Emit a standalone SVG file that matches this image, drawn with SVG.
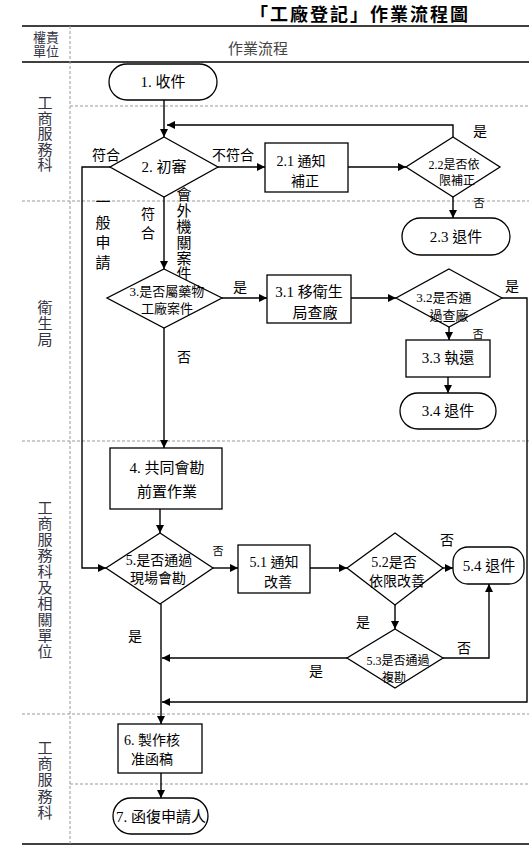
<svg xmlns="http://www.w3.org/2000/svg" width="529" height="850" viewBox="0 0 529 850">
<defs>
<marker id="arr" markerUnits="userSpaceOnUse" markerWidth="8" markerHeight="8" refX="8" refY="4" orient="auto">
<path d="M0,0 L8,4 L0,8 z" fill="#000"/>
</marker>
<style>
text{font-family:"Liberation Serif","Noto Sans CJK TC",serif;fill:#000}
.shape{fill:#fff;stroke:#000;stroke-width:1.3}
.edge{fill:none;stroke:#000;stroke-width:1.4}
.arrow{marker-end:url(#arr)}
.t15{font-size:15px;text-anchor:middle}
.t14{font-size:14px;text-anchor:middle}
.t13{font-size:13px;text-anchor:middle}
.t12{font-size:12px;text-anchor:middle}
.t11{font-size:11px;text-anchor:middle}
.lane{font-size:15px;text-anchor:middle;fill:#333344}
.frame{stroke:#000;stroke-width:1.6}
.dash{stroke:#999;stroke-width:1;stroke-dasharray:3,2}
</style>
</defs>
<rect width="529" height="850" fill="#fff"/>

<!-- title -->
<text x="250" y="21" style="font-family:'Noto Sans CJK TC',sans-serif;font-size:18px;font-weight:bold;letter-spacing:2px">「工廠登記」作業流程圖</text>

<!-- frame -->
<g id="frame">
<line class="frame" x1="22" y1="26" x2="529" y2="26"/>
<line class="frame" x1="22" y1="62" x2="529" y2="62"/>
<line class="frame" x1="22" y1="844" x2="529" y2="844"/>
<line class="dash" x1="70" y1="26" x2="70" y2="844"/>
<line class="dash" x1="70" y1="106" x2="529" y2="106"/>
<line class="dash" x1="22" y1="201" x2="529" y2="201"/>
<line class="dash" x1="22" y1="441" x2="529" y2="441"/>
<line class="dash" x1="22" y1="714" x2="529" y2="714"/>
<line class="dash" x1="70" y1="784" x2="529" y2="784"/>
<text class="t13" style="fill:#333344" x="46" y="42">權責</text>
<text class="t13" style="fill:#333344" x="46" y="56">單位</text>
<text class="t15" style="fill:#444" x="258" y="54">作業流程</text>
</g>

<!-- lane labels -->
<g id="lanes">
<text class="lane"><tspan x="45" y="108">工</tspan><tspan x="45" y="123.5">商</tspan><tspan x="45" y="139">服</tspan><tspan x="45" y="154.5">務</tspan><tspan x="45" y="170">科</tspan></text>
<text class="lane"><tspan x="45" y="313">衛</tspan><tspan x="45" y="329">生</tspan><tspan x="45" y="345">局</tspan></text>
<text class="lane"><tspan x="45" y="513">工</tspan><tspan x="45" y="529">商</tspan><tspan x="45" y="545">服</tspan><tspan x="45" y="561">務</tspan><tspan x="45" y="577">科</tspan><tspan x="45" y="593">及</tspan><tspan x="45" y="609">相</tspan><tspan x="45" y="625">關</tspan><tspan x="45" y="641">單</tspan><tspan x="45" y="657">位</tspan></text>
<text class="lane"><tspan x="45" y="753">工</tspan><tspan x="45" y="769">商</tspan><tspan x="45" y="785">服</tspan><tspan x="45" y="802">務</tspan><tspan x="45" y="818">科</tspan></text>
</g>

<!-- connectors -->
<g id="connectors">
<line class="edge arrow" x1="164" y1="100" x2="164" y2="137"/>
<polyline class="edge arrow" points="453,137 453,125 167,125"/>
<line class="edge arrow" x1="217" y1="167" x2="265" y2="167"/>
<line class="edge arrow" x1="348" y1="167" x2="406" y2="167"/>
<line class="edge arrow" x1="453" y1="197" x2="453" y2="218"/>
<line class="edge arrow" x1="164" y1="197" x2="164" y2="269"/>
<polyline class="edge arrow" points="110,167 82,167 82,568 106,568"/>
<line class="edge arrow" x1="222" y1="298" x2="267" y2="298"/>
<line class="edge arrow" x1="351" y1="298" x2="396" y2="298"/>
<line class="edge arrow" x1="449" y1="327" x2="449" y2="340"/>
<line class="edge arrow" x1="448" y1="377" x2="448" y2="393"/>
<polyline class="edge arrow" points="502,298 527,298 527,702 162,702"/>
<line class="edge arrow" x1="164" y1="328" x2="164" y2="448"/>
<line class="edge arrow" x1="160" y1="509" x2="160" y2="533"/>
<line class="edge arrow" x1="213" y1="568" x2="238" y2="568"/>
<line class="edge arrow" x1="310" y1="568" x2="347" y2="568"/>
<line class="edge arrow" x1="443" y1="568" x2="453" y2="568"/>
<line class="edge arrow" x1="395" y1="605" x2="395" y2="629"/>
<polyline class="edge arrow" points="443,658 489,658 489,584"/>
<line class="edge arrow" x1="347" y1="658" x2="162" y2="658"/>
<line class="edge arrow" x1="161" y1="604" x2="161" y2="724"/>
<line class="edge arrow" x1="161" y1="773" x2="161" y2="798"/>
<!-- edge labels -->
<text class="t14" x="106" y="160">符合</text>
<text class="t14" x="233" y="160">不符合</text>
<text class="t14" x="480" y="136">是</text>
<text class="t11" x="479" y="207">否</text>
<text class="t14"><tspan x="148" y="219">符</tspan><tspan x="148" y="238">合</tspan></text>
<text class="t15"><tspan x="184" y="200">會</tspan><tspan x="184" y="216">外</tspan><tspan x="184" y="232">機</tspan><tspan x="184" y="248">關</tspan><tspan x="184" y="264">案</tspan><tspan x="184" y="279">件</tspan></text>
<text class="t15"><tspan x="103" y="207">一</tspan><tspan x="103" y="228">般</tspan><tspan x="103" y="248">申</tspan><tspan x="103" y="268">請</tspan></text>
<text class="t14" x="240" y="292">是</text>
<text class="t14" x="184" y="362">否</text>
<text class="t14" x="512" y="291">是</text>
<text class="t11" x="478" y="338">否</text>
<text class="t11" x="218" y="555">否</text>
<text class="t14" x="135" y="641">是</text>
<text class="t14" x="447" y="545">否</text>
<text class="t14" x="363" y="627">是</text>
<text class="t14" x="464" y="653">否</text>
<text class="t14" x="316" y="676">是</text>
</g>

<!-- nodes -->
<g id="n1"><rect class="shape" x="109" y="64" width="108" height="36" rx="18"/><text class="t15" x="163" y="87">1. 收件</text></g>
<g id="n2"><polygon class="shape" points="164,137 218,167 164,197 110,167"/><text class="t15" x="164" y="172">2. 初審</text></g>
<g id="n2_1"><rect class="shape" x="265" y="143" width="83" height="49"/><text class="t14" x="301" y="166">2.1 通知</text><text class="t14" x="305" y="186">補正</text></g>
<g id="n2_2"><polygon class="shape" points="453,137 500,167 453,197 406,167"/><text class="t12" x="454" y="169">2.2是否依</text><text class="t12" x="457" y="185">限補正</text></g>
<g id="n2_3"><rect class="shape" x="402" y="218" width="108" height="37" rx="18.5"/><text class="t15" x="456" y="242">2.3 退件</text></g>
<g id="n3"><polygon class="shape" points="164,269 222,298 164,328 107,298"/><text class="t13" x="167" y="296">3.是否屬藥物</text><text class="t13" x="167" y="313">工廠案件</text></g>
<g id="n3_1"><rect class="shape" x="267" y="275" width="84" height="48"/><text class="t15" x="309" y="297">3.1 移衛生</text><text class="t15" x="315" y="318">局查廠</text></g>
<g id="n3_2"><polygon class="shape" points="449,269 502,298 449,327 396,298"/><text class="t13" x="444" y="302">3.2是否通</text><text class="t13" x="449" y="320">過查廠</text></g>
<g id="n3_3"><rect class="shape" x="406" y="340" width="84" height="37"/><text class="t15" x="448" y="363">3.3 執還</text></g>
<g id="n3_4"><rect class="shape" x="400" y="393" width="96" height="36" rx="18"/><text class="t15" x="448" y="416">3.4 退件</text></g>
<g id="n4"><rect class="shape" x="110" y="448" width="112" height="61"/><text class="t15" x="167" y="473">4. 共同會勘</text><text class="t15" x="167" y="497">前置作業</text></g>
<g id="n5"><polygon class="shape" points="160,533 213,568 160,604 106,568"/><text class="t14" x="159" y="565">5.是否通過</text><text class="t14" x="158" y="583">現場會勘</text></g>
<g id="n5_1"><rect class="shape" x="238" y="545" width="72" height="48"/><text class="t14" x="274" y="567">5.1 通知</text><text class="t14" x="278" y="587">改善</text></g>
<g id="n5_2"><polygon class="shape" points="395,533 443,568 395,605 347,568"/><text class="t14" x="394" y="567">5.2是否</text><text class="t14" x="397" y="586">依限改善</text></g>
<g id="n5_3"><polygon class="shape" points="395,629 443,658 395,688 347,658"/><text class="t12" x="398" y="665">5.3是否通過</text><text class="t12" x="394" y="682">複勘</text></g>
<g id="n5_4"><rect class="shape" x="453" y="547" width="71" height="37" rx="15"/><text class="t15" x="489" y="571">5.4 退件</text></g>
<g id="n6"><rect class="shape" x="118" y="724" width="84" height="49"/><text class="t14" x="152" y="745">6. 製作核</text><text class="t14" x="152" y="764">准函稿</text></g>
<g id="n7"><rect class="shape" x="113" y="798" width="95" height="36" rx="18"/><text class="t15" x="161" y="822">7. 函復申請人</text></g>
</svg>
